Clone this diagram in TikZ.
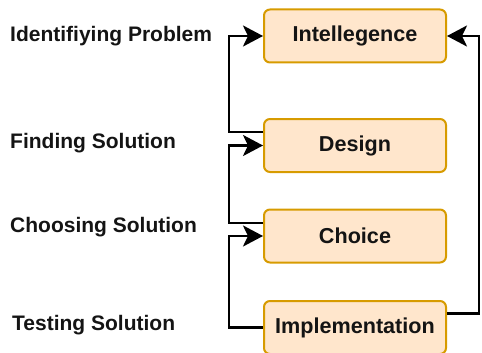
\documentclass[tikz,border=0pt]{standalone}
\usepackage{fontspec}
\setmainfont{Liberation Sans}
\usepackage{xcolor}
\usepackage{tikz}
\usetikzlibrary{arrows.meta,positioning}
\definecolor{phasefill}{HTML}{FFE6CC}
\definecolor{phaseline}{HTML}{D79B00}

\begin{document}
\begin{tikzpicture}[x=1pt, y=-1pt, text=black!92,
        phase/.style={rectangle, rounded corners=6pt, draw=phaseline, fill=phasefill, line width=2pt,
            minimum width=182pt, minimum height=53pt, font=\fontsize{21.6}{25}\selectfont\bfseries},
        note/.style={anchor=west, inner sep=0pt, font=\fontsize{21}{24}\selectfont\bfseries},
        flow/.style={line width=2.5pt, -{Stealth[length=20pt,width=21pt,inset=5pt]}}]
    \useasboundingbox (0,0) rectangle (482,353);
    % phases
    \node [phase] (int) at (355,36) {Intellegence};
    \node [phase] (des) at (355,145.5) {Design};
    \node [phase] (cho) at (355,236) {Choice};
    \node [phase] (imp) at (355,327.5) {Implementation};
    % notes on the left
    \node [note] (idp) at (10,36) {Identifiying Problem};
    \node [note] (fis) at (10,143.5) {Finding Solution};
    \node [note] (chs) at (10,227) {Choosing Solution};
    \node [note] (tes) at (12,325) {Testing Solution};
    % feedback lines
    \draw [flow] ([yshift=13.5pt]des.west) -- ++(-34,0) |- (int.west);
    \draw [flow] ([yshift=13pt]cho.west) -- ++(-34,0) |- (des.west);
    \draw [flow] (imp.west) -- ++(-34,0) |- (cho.west);
    \draw [flow] ([yshift=14pt]imp.east) -- ++(32,0) |- (int.east);
\end{tikzpicture}
\end{document}
